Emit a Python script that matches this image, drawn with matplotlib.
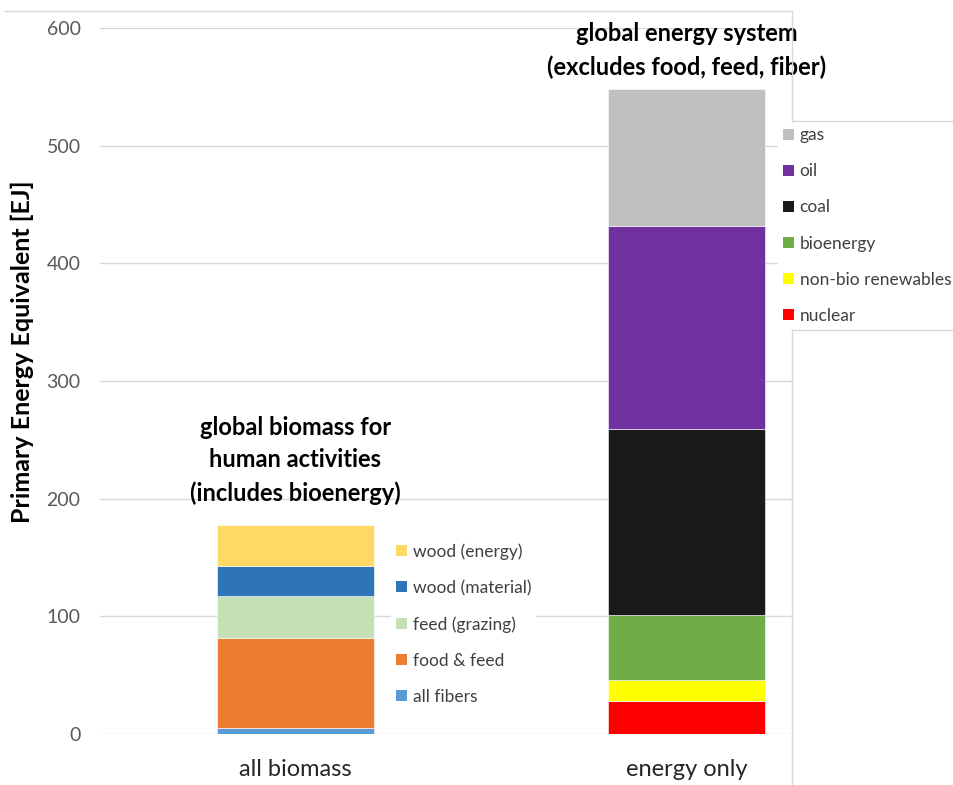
import matplotlib.pyplot as plt
from matplotlib.patches import Patch
from matplotlib.lines import Line2D

plt.rcParams['font.family'] = ['Lato', 'DejaVu Sans']

categories = ['all biomass', 'energy only']

# biomass stack (bottom to top)
bio_labels = ['all fibers', 'food & feed', 'feed (grazing)', 'wood (material)', 'wood (energy)']
bio_values = [5, 77, 35, 26, 35]
bio_colors = ['#5B9BD5', '#ED7D31', '#C5E0B4', '#2E75B6', '#FFD966']

# energy system stack (bottom to top)
en_labels = ['nuclear', 'non-bio renewables', 'bioenergy', 'coal', 'oil', 'gas']
en_values = [28, 18, 55, 158, 173, 116]
en_colors = ['#FF0000', '#FFFF00', '#70AD47', '#1A1A1A', '#7030A0', '#BFBFBF']

W, H = 954, 785
fig = plt.figure(figsize=(W / 100, H / 100), dpi=100)
ax = fig.add_axes([100 / W, 51 / H, 692 / W, 706 / H])

width = 0.4
bio_handles = []
bottom = 0
for lab, v, c in zip(bio_labels, bio_values, bio_colors):
    ax.bar(0, v, width, bottom=bottom, color=c, edgecolor='white', linewidth=0.4, zorder=2)
    bottom += v
    bio_handles.append(Patch(facecolor=c, label=lab))
bio_total = bottom

en_handles = []
bottom = 0
for lab, v, c in zip(en_labels, en_values, en_colors):
    ax.bar(1, v, width, bottom=bottom, color=c, edgecolor='white', linewidth=0.4, zorder=2)
    bottom += v
    en_handles.append(Patch(facecolor=c, label=lab))
en_total = bottom

ax.set_xlim(-0.5, 1.27)
ax.set_ylim(0, 600)
ax.set_yticks(range(0, 601, 100))
ax.set_xticks([0, 1])
ax.set_xticklabels(categories, fontsize=17, color='#262626')
ax.tick_params(axis='x', length=0, pad=18)
ax.tick_params(axis='y', length=0, pad=14, labelsize=14, labelcolor='#595959')
ax.grid(axis='y', color='#D9D9D9', linewidth=1, zorder=0)
ax.set_axisbelow(True)
for s in ax.spines.values():
    s.set_visible(False)
ax.set_ylabel('Primary Energy Equivalent [EJ]', fontsize=18, fontweight='bold')
ax.yaxis.set_label_coords(-66 / 692, 382 / 706)

ax.text(0, bio_total + 17, 'global biomass for\nhuman activities\n(includes bioenergy)',
        ha='center', va='bottom', fontsize=17, fontweight='bold', linespacing=1.5)
ax.text(1, en_total + 9, 'global energy system\n(excludes food, feed, fiber)',
        ha='center', va='bottom', fontsize=17, fontweight='bold', linespacing=1.5)

leg_kw = dict(frameon=True, framealpha=1, edgecolor='none', facecolor='white',
              fontsize=12.5, handlelength=0.6, handleheight=0.6, handletextpad=0.35,
              labelspacing=1.16, borderpad=0.3, borderaxespad=0, fancybox=False)
leg1 = ax.legend(handles=bio_handles[::-1], loc='upper left',
                 bbox_to_anchor=(391 / W, 1 - 538 / H), bbox_transform=fig.transFigure, **leg_kw)
for t in leg1.get_texts():
    t.set_color('#404040')
ax.add_artist(leg1)
leg2 = ax.legend(handles=en_handles[::-1], loc='upper left',
                 bbox_to_anchor=(778 / W, 1 - 122 / H), bbox_transform=fig.transFigure, **leg_kw)
for t in leg2.get_texts():
    t.set_color('#404040')

# light outline of the surrounding panels
def px_line(x0, y0, x1, y1):
    fig.add_artist(Line2D([x0 / W, x1 / W], [1 - y0 / H, 1 - y1 / H],
                          transform=fig.transFigure, color='#D9D9D9', linewidth=1))

px_line(5, 11, 792, 11)
px_line(792, 11, 792, 121)
px_line(792, 121, 954, 121)
px_line(792, 330, 954, 330)
px_line(792, 330, 792, 785)

fig.savefig('out.png', dpi=100)
